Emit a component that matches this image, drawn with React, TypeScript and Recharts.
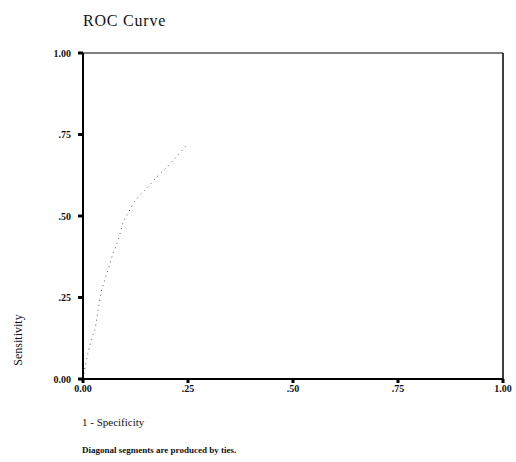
import { Line, LineChart, ReferenceLine, XAxis, YAxis } from "recharts";

const fpr = [0, 0.007, 0.012, 0.021, 0.029, 0.036, 0.043, 0.052, 0.062, 0.07, 0.078, 0.086, 0.095, 0.11, 0.119, 0.133, 0.15, 0.176, 0.195, 0.245];
const tpr = [0, 0.049, 0.08, 0.126, 0.156, 0.212, 0.264, 0.304, 0.344, 0.38, 0.406, 0.436, 0.478, 0.515, 0.537, 0.561, 0.583, 0.62, 0.644, 0.715];
const ticks = [0, 0.25, 0.5, 0.75, 1];
const xTickLabels = ["0.00", ".25", ".50", ".75", "1.00"];
const yTickLabels = ["0.00", ".25", ".50", ".75", "1.00"];

const rows = fpr.map((x, i) => ({ x, y: tpr[i] }));

const serif = "'Liberation Serif', 'DejaVu Serif', serif";

export default function App() {
  return (
    <div style={{ position: "absolute", left: 0, top: 0, width: 516, height: 462, background: "#fff", fontFamily: serif }}>
      <div style={{ position: "absolute", left: 83, top: 12, fontSize: 16, letterSpacing: 0.8, color: "#111" }}>ROC Curve</div>
      <LineChart width={516} height={462} data={rows} margin={{ top: 53, right: 13, bottom: 63, left: 0 }}>
        <XAxis
          dataKey="x"
          type="number"
          domain={[0, 1]}
          ticks={ticks}
          tickFormatter={(v: number) => xTickLabels[ticks.indexOf(v)]}
          height={20}
          stroke="#000"
          strokeWidth={2}
          tickSize={4}
          tick={{ fontSize: 10, fontWeight: "bold", fill: "#111", fontFamily: serif }}
          tickLine={{ strokeWidth: 3 }}
        />
        <YAxis
          dataKey="y"
          type="number"
          domain={[0, 1]}
          ticks={ticks}
          tickFormatter={(v: number) => yTickLabels[ticks.indexOf(v)]}
          width={83}
          stroke="#000"
          strokeWidth={2}
          tickSize={5}
          tick={{ fontSize: 10, fontWeight: "bold", fill: "#111", fontFamily: serif, dx: -5 }}
          tickLine={{ strokeWidth: 3, stroke: "#000" }}
        />
        <ReferenceLine y={1} stroke="#000" strokeWidth={1} />
        <ReferenceLine x={1} stroke="#000" strokeWidth={1.5} />
        <Line
          dataKey="y"
          type="monotone"
          stroke="#555"
          strokeWidth={1}
          strokeDasharray="1 4"
          dot={false}
          isAnimationActive={false}
        />
      </LineChart>
      <div
        style={{
          position: "absolute",
          left: 18,
          top: 340,
          transform: "translate(-50%, -50%) rotate(-90deg)",
          fontSize: 12,
          whiteSpace: "nowrap",
          color: "#111",
        }}
      >
        Sensitivity
      </div>
      <div style={{ position: "absolute", left: 82, top: 416, fontSize: 11, color: "#111" }}>1 - Specificity</div>
      <div style={{ position: "absolute", left: 82, top: 445, fontSize: 9, fontWeight: "bold", color: "#111" }}>
        Diagonal segments are produced by ties.
      </div>
    </div>
  );
}
